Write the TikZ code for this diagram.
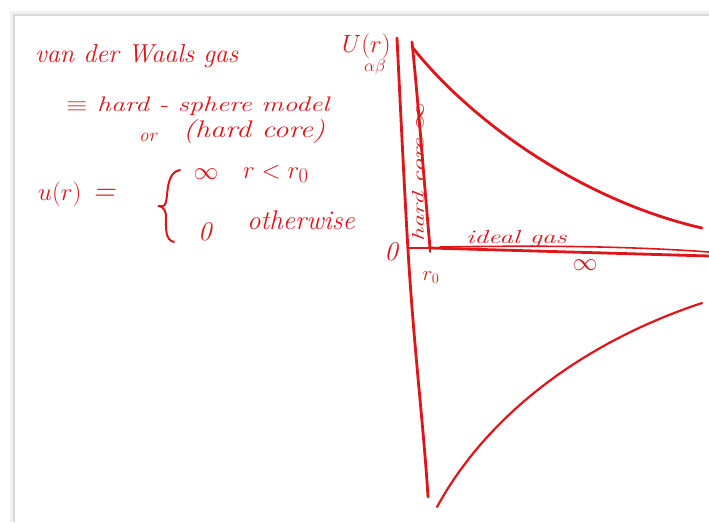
\documentclass[tikz,border=0pt]{standalone}
\usepackage{fontspec}
\setmainfont{Latin Modern Roman}
\definecolor{ink}{RGB}{222,22,26}
\definecolor{pageedge}{RGB}{215,215,215}
\newcommand{\fsz}[1]{\fontsize{#1}{#1}\selectfont}
\tikzset{
  hand/.style={text=ink, inner sep=0pt, font=\itshape\fsz{27}},
  small/.style={text=ink, inner sep=0pt, font=\itshape\fsz{17}},
  pen/.style={draw=ink, line width=2.8pt, line cap=round, line join=round},
  thinpen/.style={draw=ink, line width=1.6pt, line cap=round}
}
\begin{document}
\begin{tikzpicture}[x=1pt,y=-1pt]
\useasboundingbox (0,0) rectangle (709,522);
\fill[white] (0,0) rectangle (709,522);
% page edge with faint shadow
\draw[pageedge, line width=2pt] (14,522) -- (14,15) -- (709,15);
\draw[black!6, line width=3pt] (11,522) -- (11,12) -- (709,12);

% left text
\node[hand, anchor=base west, font=\itshape\fsz{26}] (title) at (35,62) {van der Waals gas};
\node[hand, anchor=base west] (hs) at (66,111) {\scalebox{1.32}[1]{\itshape\fsz{21}$\equiv$ hard - sphere model}};
\node[hand, anchor=base west, font=\itshape\fsz{19}] (or) at (139,141) {or};
\node[hand, anchor=base west] (hc) at (183,137) {\scalebox{1.25}[1]{\itshape\fsz{24}(hard core)}};
\node[hand, anchor=base west, font=\itshape\fsz{31}] (ur) at (38,200) {$u(r)$ =};
\draw[thinpen, line width=2pt] (180,170) .. controls (166,172) and (168,195) .. (166,202)
  .. controls (165,208) and (160,206) .. (158,206)
  .. controls (165,207) and (166,212) .. (166,218)
  .. controls (166,228) and (165,240) .. (174,242);
\node[hand, anchor=center, font=\itshape\fsz{32}] (inf1) at (206,174) {$\infty$};
\node[hand, anchor=base west, font=\itshape\fsz{30}] (cond) at (243,178) {$r < r_0$};
\node[hand, anchor=base west, font=\itshape\fsz{27}] (zero1) at (198,240) {0};
\node[hand, anchor=base west, font=\itshape\fsz{27}] (other) at (247,229) {otherwise};

% plot labels
\node[hand, anchor=base west] (U) at (342,52) {$U(r)$};
\node[small, anchor=base west] (ab) at (364,71) {$\alpha\beta$};
\node[hand, anchor=base] (orig) at (391,260) {0};
\node[small, anchor=base, font=\itshape\fsz{22}] (r0) at (431,280) {$r_0$};
\node[small, anchor=base west] (ideal) at (466,243) {\scalebox{1.45}[1]{\fsz{19}ideal gas}};
\node[small, anchor=center, font=\fsz{30}] (inf2) at (585,265) {$\infty$};
\node[small, anchor=center, rotate=90] (hcore) at (418,172) {\scalebox{1.55}[1]{hard core $\infty$}};

% axes and curves
\coordinate (vtop) at (397,38);
\coordinate (vmid) at (408,250);
\coordinate (vbot) at (428,497);
\draw[pen] (vtop) .. controls (402,140) and (405,200) .. (vmid) .. controls (414,350) and (424,430) .. (vbot);
\coordinate (htop) at (412,42);
\coordinate (r0pt) at (430,248);
\draw[pen] (htop) .. controls (418,100) and (424,180) .. (r0pt);
\draw[thinpen] (409,248) -- (r0pt);
\coordinate (hend) at (709,256);
\draw[pen] (r0pt) -- (hend);
\draw[thinpen] (440,247) .. controls (560,245) and (640,247) .. (709,252);
\draw[thinpen] (r0pt) -- ++(0,4);
\coordinate (ctop) at (413,48);
\coordinate (cend) at (702,228);
\draw[pen] (ctop) .. controls (470,120) and (580,200) .. (cend);
\coordinate (ltop) at (437,507);
\coordinate (lend) at (702,303);
\draw[pen, line width=2.2pt] (ltop) .. controls (490,410) and (590,340) .. (lend);
\end{tikzpicture}
\end{document}
